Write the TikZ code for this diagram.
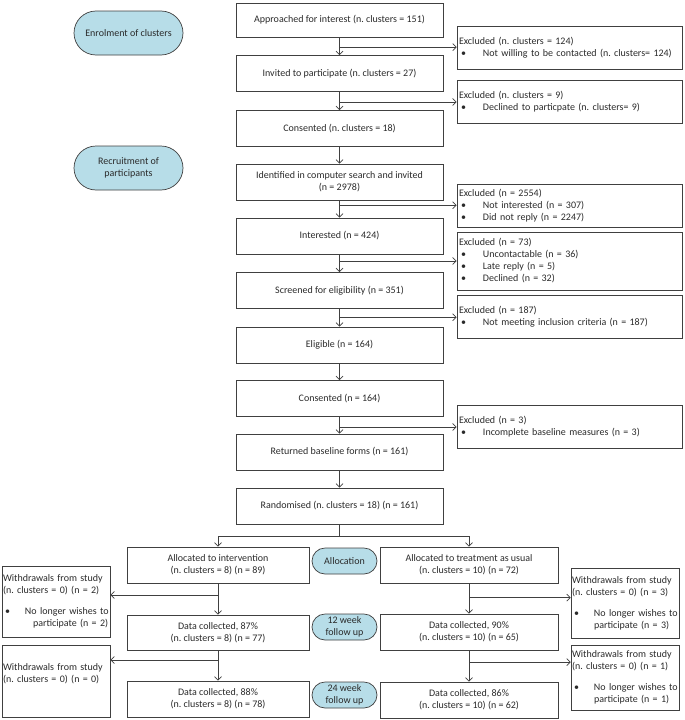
\documentclass[tikz,border=0pt]{standalone}
\usepackage{fontspec}
\setmainfont{Carlito}
\usetikzlibrary{arrows.meta,calc}
\definecolor{pillblue}{HTML}{B7DDE8}
\definecolor{linec}{HTML}{404040}
\definecolor{txtc}{HTML}{2A2A2A}
\newcommand{\bitem}[1]{\makebox[24pt][l]{\hspace{2pt}\textbullet}#1}
\newcommand{\witem}[1]{\mbox{\makebox[22pt][l]{\hspace{2pt}\textbullet}#1}}
\frenchspacing
\begin{document}
\frenchspacing
\begin{tikzpicture}[x=1pt,y=-1pt,
  font=\fontsize{10}{12}\selectfont\frenchspacing, text=txtc,
  box/.style={draw=linec, line width=0.7pt, minimum width=207pt, minimum height=36pt, align=center, inner sep=2pt},
  exbox/.style={draw=linec, line width=0.7pt, text width=221pt, inner xsep=2pt, inner ysep=2pt, align=left},
  wbox/.style={draw=linec, line width=0.7pt, text width=106pt, inner xsep=1pt, inner ysep=2pt, align=left},
  pill/.style={draw=linec, line width=0.7pt, fill=pillblue, align=center, inner sep=1pt},
  bigpill/.style={pill, minimum width=109pt, minimum height=44pt, rounded corners=22pt},
  smallpill/.style={pill, minimum width=65pt, minimum height=26pt, rounded corners=13pt},
  arr/.style={draw=linec, line width=0.7pt, -{Straight Barb[length=3.5pt,width=7pt]}},
  ln/.style={draw=linec, line width=0.7pt}
]
\useasboundingbox (0,0) rectangle (685,720);

% stage labels
\node[bigpill] (P1) at (128.5,33) {Enrolment of clusters};
\node[bigpill] (P2) at (128.5,168) {Recruitment of\\participants};

% main column
\node[box, minimum height=34pt] (A) at (339.5,20) {Approached for interest (n. clusters = 151)};
\node[box] (I) at (339.5,73.5) {Invited to participate (n. clusters = 27)};
\node[box] (C1) at (339.5,128.5) {Consented (n. clusters = 18)};
\node[box] (ID) at (339.5,182) {Identified in computer search and invited\\(n = 2978)};
\node[box] (INT) at (339.5,236) {Interested (n = 424)};
\node[box] (SCR) at (339.5,290.5) {Screened for eligibility (n = 351)};
\node[box] (EL) at (339.5,345) {Eligible (n = 164)};
\node[box] (C2) at (339.5,398.5) {Consented (n = 164)};
\node[box] (RET) at (339.5,452) {Returned baseline forms (n = 161)};
\node[box] (RAND) at (339.5,506) {Randomised (n. clusters = 18) (n = 161)};

% exclusion boxes
\node[exbox, minimum height=43pt] (E1) at (569.5,47.5) {Excluded (n. clusters = 124)\\\bitem{Not willing to be contacted (n. clusters= 124)}};
\node[exbox, minimum height=43pt] (E2) at (569.5,101.5) {Excluded (n. clusters = 9)\\\bitem{Declined to particpate (n. clusters= 9)}};
\node[exbox, minimum height=43pt] (E3) at (569.5,205.5) {Excluded (n = 2554)\\\bitem{Not interested (n = 307)}\\\bitem{Did not reply (n = 2247)}};
\node[exbox, minimum height=58pt] (E4) at (569.5,261) {Excluded (n = 73)\\\bitem{Uncontactable (n = 36)}\\\bitem{Late reply (n = 5)}\\\bitem{Declined (n = 32)}};
\node[exbox, minimum height=43pt] (E5) at (569.5,316.5) {Excluded (n = 187)\\\bitem{Not meeting inclusion criteria (n = 187)}};
\node[exbox, minimum height=43pt] (E6) at (569.5,426.5) {Excluded (n = 3)\\\bitem{Incomplete baseline measures (n = 3)}};

% allocation arms
\node[box, minimum width=182pt] (AL) at (218,565) {Allocated to intervention\\(n. clusters = 8) (n = 89)};
\node[box, minimum width=182pt, minimum height=35pt] (DL1) at (218,632.5) {Data collected, 87\%\\(n. clusters = 8) (n = 77)};
\node[box, minimum width=182pt] (DL2) at (218,699) {Data collected, 88\%\\(n. clusters = 8) (n = 78)};
\node[box, minimum width=178pt] (AR) at (469,565) {Allocated to treatment as usual\\(n. clusters = 10) (n = 72)};
\node[box, minimum width=178pt] (DR1) at (469,632) {Data collected, 90\%\\(n. clusters = 10) (n = 65)};
\node[box, minimum width=178pt] (DR2) at (469,700) {Data collected, 86\%\\(n. clusters = 10) (n = 62)};

\node[smallpill] (PA) at (344.5,561) {Allocation};
\node[smallpill] (PB) at (344.5,627) {12 week\\follow up};
\node[smallpill] (PC) at (344.5,695) {24 week\\follow up};

% withdrawals
\node[wbox, minimum height=71pt] (WL1) at (56,601.5) {Withdrawals from study\\(n. clusters = 0) (n = 2)\\[9pt]\witem{No longer wishes to}\\\hspace*{30pt}participate (n = 2)};
\node[wbox, minimum height=72pt] (WL2) at (56,681) {Withdrawals from study\\(n. clusters = 0) (n = 0)\\[4pt]\mbox{}};
\node[wbox, minimum height=70pt] (WR1) at (625,603) {Withdrawals from study\\(n. clusters = 0) (n = 3)\\[9pt]\witem{No longer wishes to}\\\hspace*{22pt}participate (n = 3)};
\node[wbox, minimum height=65pt] (WR2) at (625,677.5) {Withdrawals from study\\(n. clusters = 0) (n = 1)\\[9pt]\witem{No longer wishes to}\\\hspace*{22pt}participate (n = 1)};

% main flow arrows
\draw[arr] (A) -- (I);
\draw[arr] (I) -- (C1);
\draw[arr] (C1) -- (ID);
\draw[arr] (ID) -- (INT);
\draw[arr] (INT) -- (SCR);
\draw[arr] (SCR) -- (EL);
\draw[arr] (EL) -- (C2);
\draw[arr] (C2) -- (RET);
\draw[arr] (RET) -- (RAND);

% exclusion branches
\coordinate (b1) at ($(A.south)!0.55!(I.north)$);
\draw[arr] (b1) -- (b1 -| E1.west);
\coordinate (b2) at ($(I.south)!0.55!(C1.north)$);
\draw[arr] (b2) -- (b2 -| E2.west);
\coordinate (b3) at ($(ID.south)!0.28!(INT.north)$);
\draw[arr] (b3) -- (b3 -| E3.west);
\coordinate (b4) at ($(INT.south)!0.37!(SCR.north)$);
\draw[arr] (b4) -- (b4 -| E4.west);
\coordinate (b5) at ($(SCR.south)!0.47!(EL.north)$);
\draw[arr] (b5) -- (b5 -| E5.west);
\coordinate (b6) at ($(C2.south)!0.6!(RET.north)$);
\draw[arr] (b6) -- (b6 -| E6.west);

% randomisation split
\coordinate (sp) at ($(RAND.south)+(0,12)$);
\draw[ln] (RAND.south) -- (sp);
\draw[arr] (sp) -| (AL.north);
\draw[arr] (sp) -| (AR.north);

% arm flows
\draw[arr] (AL) -- (DL1);
\draw[arr] (DL1) -- (DL2);
\draw[arr] (AR) -- (DR1);
\draw[arr] (DR1) -- (DR2);

\coordinate (l1) at ($(AL.south)!0.37!(DL1.north)$);
\draw[arr] (l1) -- (l1 -| WL1.east);
\coordinate (l2) at ($(DL1.south)!0.32!(DL2.north)$);
\draw[arr] (l2) -- (l2 -| WL2.east);
\coordinate (r1) at ($(AR.south)!0.47!(DR1.north)$);
\draw[arr] (r1) -- (r1 -| WR1.west);
\coordinate (r2) at ($(DR1.south)!0.375!(DR2.north)$);
\draw[arr] (r2) -- (r2 -| WR2.west);
\end{tikzpicture}
\end{document}
